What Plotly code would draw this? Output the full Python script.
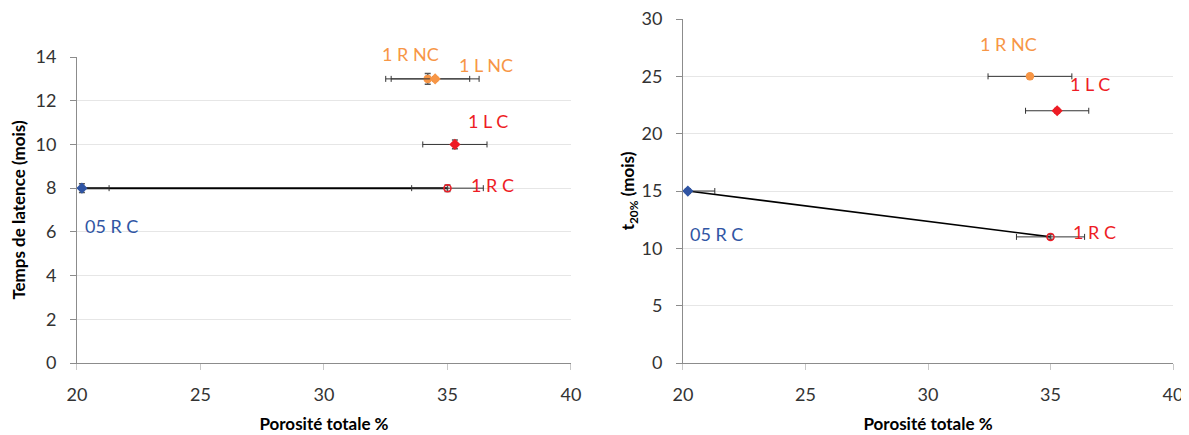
import plotly.graph_objects as go

# Left chart data: Temps de latence vs porosité
names = ["05 R C", "1 R C", "1 L C", "1 R NC", "1 L NC"]
left_x = [20.2, 35.0, 35.3, 34.2, 34.5]
left_y = [8, 8, 10, 13, 13]
left_xerr = [1.1, 1.45, 1.3, 1.7, 1.78]
left_yerr = [0.2, 0.15, 0.2, 0.25, 0.1]

# Right chart data: t20% vs porosité
right_names = ["05 R C", "1 R C", "1 L C", "1 R NC"]
right_x = [20.2, 35.0, 35.27, 34.16]
right_y = [15, 11, 22, 25]
right_xerr = [1.1, 1.39, 1.29, 1.71]
right_yerr = [0.2, 0.2, 0.2, 0.2]

colors = {"05 R C": "#3055A4", "1 R C": "#EE1C25", "1 L C": "#EE1C25",
          "1 R NC": "#F79646", "1 L NC": "#F79646"}
symbols = {"05 R C": "diamond", "1 R C": "circle-open", "1 L C": "diamond",
           "1 R NC": "circle", "1 L NC": "diamond"}

# label positions (data coords) + vertical pixel shift
left_lab = {"05 R C": (21.38, 6.25, 0), "1 R C": (36.84, 8.15, 0), "1 L C": (36.64, 11.05, 0),
            "1 R NC": (33.5, 14.0, 3), "1 L NC": (36.56, 13.65, 0)}
right_lab = {"05 R C": (21.35, 11.25, 0), "1 R C": (36.8, 11.4, 0), "1 L C": (36.6, 24.3, 0),
             "1 R NC": (33.27, 27.8, 0)}

fig = go.Figure()

# connecting lines
fig.add_trace(go.Scatter(x=[left_x[0], left_x[1]], y=[left_y[0], left_y[1]], mode="lines",
                         line=dict(color="black", width=2), xaxis="x", yaxis="y",
                         showlegend=False, hoverinfo="skip"))
fig.add_trace(go.Scatter(x=[right_x[0], right_x[1]], y=[right_y[0], right_y[1]], mode="lines",
                         line=dict(color="black", width=1.6), xaxis="x2", yaxis="y2",
                         showlegend=False, hoverinfo="skip"))

def add_points(xs, ys, xe, ye, nm, xa, ya):
    for x, y, ex, ey, n in zip(xs, ys, xe, ye, nm):
        c = colors[n]
        fig.add_trace(go.Scatter(
            x=[x], y=[y], mode="markers", xaxis=xa, yaxis=ya, showlegend=False,
            marker=dict(symbol=symbols[n], size=7, color=c, line=dict(color=c, width=1.5)),
            error_x=dict(type="data", array=[ex], color="#333333", thickness=1, width=3),
            error_y=dict(type="data", array=[ey], color="#555555", thickness=1.5, width=3),
        ))

add_points(left_x, left_y, left_xerr, left_yerr, names, "x", "y")
add_points(right_x, right_y, right_xerr, right_yerr, right_names, "x2", "y2")

ann = []
for n, (ax_, ay_, sh) in left_lab.items():
    ann.append(dict(x=ax_, y=ay_, xref="x", yref="y", text=n, showarrow=False, yshift=sh,
                    font=dict(size=18, color=colors[n], family="Lato")))
for n, (ax_, ay_, sh) in right_lab.items():
    ann.append(dict(x=ax_, y=ay_, xref="x2", yref="y2", text=n, showarrow=False, yshift=sh,
                    font=dict(size=18, color=colors[n], family="Lato")))

tickfont = dict(size=18, color="#333333", family="Lato")
titlefont = dict(size=17, color="black", family="Lato")
common = dict(showline=True, linecolor="#8C8C8C", linewidth=1, ticks="outside",
              ticklen=6, tickfont=tickfont, zeroline=False,
              automargin=False, ticklabeloverflow="allow")
xcommon = dict(common, tickcolor="#C8C8C8", ticklabelstandoff=9, showgrid=False,
               range=[20, 40], dtick=5)
ycommon = dict(common, tickcolor="#8C8C8C", ticklabelstandoff=10, showgrid=True,
               gridcolor="#E6E6E6")

fig.update_layout(
    width=1181, height=427, margin=dict(l=0, r=0, t=0, b=0),
    paper_bgcolor="white", plot_bgcolor="white",
    font=dict(family="Lato"),
    annotations=ann,
    xaxis=dict(domain=[0.0584, 0.4767], anchor="y",
               title=dict(text="<b>Porosité totale %</b>", font=titlefont, standoff=14),
               **xcommon),
    yaxis=dict(domain=[0.1686, 0.8852], range=[0, 14], dtick=2, anchor="x",
               title=dict(text="<b>Temps de latence (mois)</b>", font=titlefont, standoff=8),
               **ycommon),
    xaxis2=dict(domain=[0.5715, 0.9865], anchor="y2",
                title=dict(text="<b>Porosité totale %</b>", font=titlefont, standoff=14),
                **xcommon),
    yaxis2=dict(domain=[0.1686, 0.9742], range=[0, 30.001], dtick=5, anchor="x2",
                title=dict(text="<b>t<sub>20%</sub> (mois)</b>", font=titlefont, standoff=2),
                **ycommon),
)

fig.write_html("out.html")
